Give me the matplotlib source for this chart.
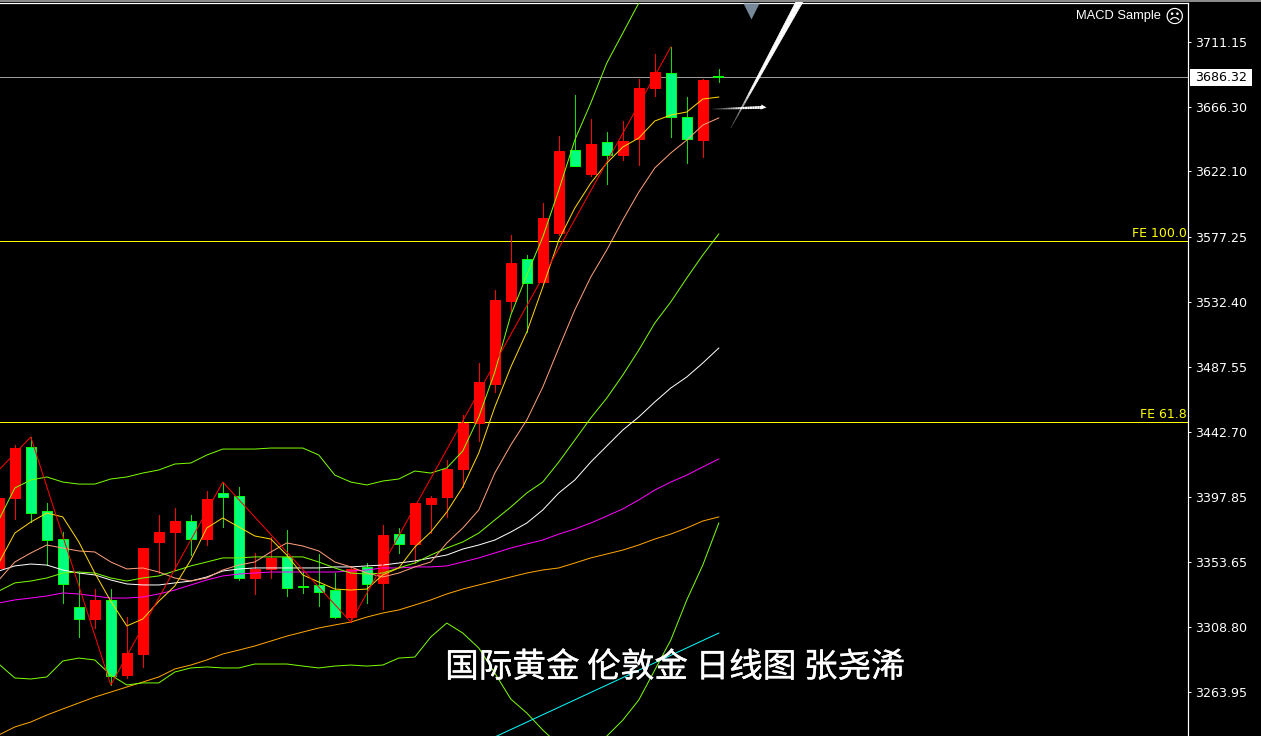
import matplotlib
matplotlib.use("Agg")
import matplotlib.pyplot as plt
import matplotlib.patheffects as pe
from matplotlib.lines import Line2D
from matplotlib.patches import Polygon, Rectangle

# ---------- candles (index = bar number) ----------
opens = [3349.3,3397.4,3432.5,3388.5,3369.2,3322.4,3314.2,3327.3,3275.6,3290.1,3367.1,3374.0,3381.6,3369.2,3400.9,3398.8,
         3342.4,3348.6,3356.8,3336.9,3337.6,3334.1,3315.5,3350.0,3339.0,3372.7,3365.8,3393.3,3398.1,3417.4,3449.0,3475.8,
         3533.0,3561.9,3546.0,3579.8,3636.9,3620.3,3642.4,3633.4,3644.4,3679.5,3689.8,3659.6,3643.7,3687.4]
closes = [3397.4,3431.8,3387.1,3368.5,3338.2,3314.2,3327.3,3275.0,3290.8,3363.0,3374.0,3381.6,3369.2,3396.7,3398.1,3342.4,
          3348.6,3356.2,3335.5,3336.2,3332.8,3315.5,3348.6,3338.2,3372.1,3365.8,3394.0,3397.4,3417.4,3449.0,3477.2,3533.65,
          3559.1,3545.3,3590.1,3636.2,3625.8,3641.0,3633.4,3643.1,3679.5,3690.5,3659.6,3644.4,3685.0,3687.0]
highs = [3402.9,3433.9,3439.4,3394.0,3374.0,3345.8,3334.8,3334.8,3315.5,3363.0,3385.7,3390.5,3385.7,3402.2,3408.4,3405.0,
         3359.6,3370.6,3375.4,3346.5,3358.9,3345.8,3350.6,3352.7,3378.9,3376.8,3394.0,3398.8,3423.5,3454.5,3490.3,3540.5,
         3578.4,3564.6,3600.4,3646.5,3674.7,3658.2,3649.2,3656.8,3685.7,3702.9,3707.7,3673.3,3685.7,3692.5]
lows = [3344.5,3383.0,3380.9,3351.3,3325.2,3301.8,3308.0,3268.8,3273.6,3281.1,3345.8,3347.9,3358.2,3365.1,3377.5,3341.0,
        3331.4,3342.4,3330.0,3332.1,3323.1,3314.8,3312.1,3325.2,3321.1,3359.6,3352.7,3373.3,3384.4,3405.0,3436.6,3470.4,
        3526.1,3511.6,3543.9,3578.4,3625.8,3618.9,3613.5,3630.0,3626.5,3674.0,3645.8,3627.9,3632.1,3683.6]

# ---------- moving averages and bands ----------
ma_yellow = [3352.7,3373.3,3380.9,3387.1,3384.4,3367.2,3345.8,3326.4,3309.4,3314.2,3326.4,3336.9,3354.8,3376.8,3383.7,3377.5,
             3371.3,3369.2,3358.2,3344.5,3339.6,3334.8,3334.1,3334.8,3344.5,3349.3,3363.7,3374.0,3387.8,3405.0,3428.4,3460.0,
             3487.5,3511.6,3542.6,3574.9,3596.9,3614.1,3627.9,3638.9,3645.1,3656.8,3660.9,3663.0,3671.9,3673.3]
ma_salmon = [3341.0,3353.4,3359.6,3365.1,3363.0,3361.0,3360.3,3353.4,3348.6,3349.3,3346.5,3342.4,3340.3,3342.4,3347.9,3351.3,
             3353.4,3360.3,3366.5,3364.4,3361.0,3353.4,3350.0,3345.8,3343.1,3345.8,3350.0,3353.4,3366.5,3376.8,3389.2,3414.6,
             3433.9,3451.1,3473.8,3500.6,3526.8,3549.5,3568.1,3588.7,3607.9,3624.5,3634.8,3643.7,3654.0,3658.9]
ma_white = [3347.2,3350.7,3352.0,3351.3,3347.9,3345.8,3344.5,3341.0,3338.3,3337.6,3337.6,3339.0,3340.3,3343.1,3347.2,3348.6,
            3349.3,3349.3,3349.3,3349.3,3349.3,3350.0,3350.0,3350.7,3351.3,3352.7,3354.1,3356.2,3358.2,3362.3,3365.1,3368.5,
            3374.0,3380.2,3389.2,3400.9,3409.8,3422.2,3433.2,3444.2,3453.2,3463.5,3473.1,3480.7,3490.3,3500.6]
ma_lime = [3333.4,3339.0,3340.3,3342.4,3345.8,3346.5,3345.8,3342.4,3340.3,3342.4,3343.8,3347.2,3350.7,3353.4,3356.2,3356.2,
           3356.9,3356.9,3356.9,3356.9,3353.4,3349.3,3345.8,3345.1,3345.8,3349.3,3352.7,3358.2,3363.0,3367.2,3373.3,3382.3,
           3391.2,3400.9,3408.4,3422.2,3437.3,3452.5,3466.2,3482.0,3499.2,3517.8,3532.3,3548.8,3564.6,3579.1]
ma_magenta = [3325.2,3327.3,3328.6,3330.0,3332.1,3331.4,3330.0,3328.6,3328.6,3329.3,3331.4,3334.1,3337.6,3341.0,3343.8,3345.1,
              3345.8,3346.5,3346.5,3346.5,3346.5,3346.5,3347.2,3347.9,3349.3,3349.3,3350.0,3350.0,3350.7,3353.4,3356.2,3359.6,
              3363.0,3365.8,3368.5,3372.6,3376.1,3380.2,3385.0,3389.9,3396.1,3402.9,3408.4,3413.2,3418.8,3424.3]
ma_orange = [3234.4,3239.9,3243.3,3248.1,3252.3,3256.4,3260.5,3263.9,3267.4,3270.8,3274.3,3279.8,3282.5,3286.0,3290.1,3292.8,
             3295.6,3299.0,3302.4,3305.2,3308.0,3310.1,3312.1,3315.5,3318.3,3320.4,3323.8,3327.3,3331.4,3334.8,3337.6,3340.3,
             3343.1,3345.8,3347.9,3349.3,3352.7,3356.2,3358.9,3361.6,3365.1,3369.2,3372.6,3376.8,3381.6,3384.4]
band_upper = [3382.3,3404.3,3409.8,3411.9,3408.4,3407.0,3407.0,3410.5,3411.9,3414.6,3416.7,3420.8,3421.5,3427.0,3431.1,3431.1,
              3431.1,3431.8,3431.8,3431.8,3427.0,3413.2,3408.4,3406.4,3409.1,3410.5,3416.0,3414.6,3418.1,3429.8,3453.2,3484.1,
              3523.3,3550.8,3577.0,3609.3,3643.7,3669.2,3696.7,3717.3,3738.0,3760.7]
band_lower = [3283.2,3273.6,3272.9,3274.3,3285.3,3287.3,3286.0,3275.6,3268.8,3270.2,3270.2,3277.7,3280.5,3281.2,3280.5,3280.5,
              3283.2,3283.2,3283.2,3281.8,3280.5,3281.8,3282.5,3281.8,3282.5,3287.3,3288.0,3301.8,3311.4,3304.5,3294.2,3277.0,
              3259.1,3249.5,3237.8,3227.5,3220.6,3224.0,3233.6,3244.6,3258.5,3279.1,3299.7,3327.3,3351.3,3380.2]

# ---------- zigzag, trendline, levels ----------
zigzag_bars = [0, 2, 7, 14, 22, 42]
zigzag_prices = [3416.7, 3439.4, 3268.8, 3408.4, 3312.1, 3707.7]
trend_bars = [31, 45]
trend_prices = [3233.0, 3304.5]
level_fe100 = 3574.2
level_fe618 = 3449.9
level_bid = 3687.0
bid_label = "3686.32"
tick_values = [3711.15, 3666.30, 3622.10, 3577.25, 3532.40, 3487.55, 3442.70, 3397.85, 3353.65, 3308.80, 3263.95]
tick_labels = ["3711.15", "3666.30", "3622.10", "3577.25", "3532.40", "3487.55", "3442.70", "3397.85", "3353.65", "3308.80", "3263.95"]
title_text = "国际黄金 伦敦金 日线图 张尧浠"

# ---------- layout ----------
W, H = 1261, 736
BAR_PX = 16.0
PLOT_RIGHT, PLOT_TOP = 1188, 3
PX = 0.72   # one pixel in points at dpi 100
THIN = 0.72 # diagonal indicator lines
UI = "DejaVu Sans"

def px(x, y):
    return x / W, 1 - y / H

fig = plt.figure(figsize=(W / 100, H / 100), dpi=100, facecolor="black")
ax = fig.add_axes([0, 0, PLOT_RIGHT / W, (H - PLOT_TOP) / H], facecolor="black")
ax.set_xlim(1.2 / BAR_PX, (PLOT_RIGHT + 1.2) / BAR_PX)
ax.set_ylim(3233.68, 3737.99)

for s in ("left", "bottom"):
    ax.spines[s].set_visible(False)
for s in ("top", "right"):
    ax.spines[s].set_color("white")
    ax.spines[s].set_linewidth(PX * 1.2)
ax.set_xticks([])
ax.set_yticks(tick_values)
ax.set_yticklabels(tick_labels, family=UI, fontsize=9.05, color="white")
ax.tick_params(axis="y", left=False, labelleft=False, right=True, labelright=True,
               color="white", length=2.4, width=PX, pad=2.6)

# horizontal levels (behind the candles)
ax.axhline(level_bid, color="#9b9b9b", lw=PX, zorder=1)
ax.axhline(level_fe100, color="#FFFF00", lw=PX, zorder=1)
ax.axhline(level_fe618, color="#FFFF00", lw=PX, zorder=1)

# candles
bars = list(range(len(opens)))
up = [c >= o for o, c in zip(opens, closes)]
UP_C, DN_FACE, DN_EDGE, DN_WICK = "#FF0000", "#00FF7F", "#00FF00", "#10DC10"
ax.vlines(bars, lows, highs, colors=[UP_C if u else DN_WICK for u in up], lw=PX, zorder=2, antialiased=False)
for b, o, c, u in zip(bars, opens, closes, up):
    lo, hi = min(o, c), max(o, c)
    if b == bars[-1]:
        ax.hlines((o + c) / 2, b - 5.5 / BAR_PX, b + 5.5 / BAR_PX, color=DN_EDGE, lw=PX * 2, zorder=2.1, antialiased=False)
        continue
    ax.bar(b, hi - lo, bottom=lo, width=10 / BAR_PX, color=UP_C if u else DN_FACE,
           edgecolor=UP_C if u else DN_EDGE, linewidth=PX, zorder=2.1)

# indicator lines
for series, col in [(ma_orange, "#FFA500"), (ma_magenta, "#FF00FF"), (ma_white, "#FFFFFF"), (ma_lime, "#7CFC00"),
                    (ma_salmon, "#FFA07A"), (ma_yellow, "#FFD700"), (band_upper, "#7CFC00"), (band_lower, "#7CFC00")]:
    ax.plot(range(len(series)), series, color=col, lw=THIN, zorder=3, solid_joinstyle="miter")
ax.plot(zigzag_bars, zigzag_prices, color="#FF0000", lw=THIN, zorder=3.1)
ax.plot(trend_bars, trend_prices, color="#00FFFF", lw=THIN, zorder=3)

# level captions
for lab, lv in (("FE 100.0", level_fe100), ("FE 61.8", level_fe618)):
    ax.annotate(lab, xy=(1.0, lv), xycoords=("axes fraction", "data"), xytext=(-1, 0.6), textcoords="offset points",
                color="#FFFF00", family=UI, fontsize=9.0, ha="right", va="bottom", zorder=5)

# last-price tag
fig.add_artist(Rectangle(px(1190, 86), 62 / W, 17 / H, transform=fig.transFigure, facecolor="white", edgecolor="none"))
fig.text(*px(1195, 77.5), bid_label, color="black", family=UI, fontsize=9.05, ha="left", va="center")

# top chrome
fig.add_artist(Line2D([0, 1], [1 - 1 / H, 1 - 1 / H], color="#8a8a8a", lw=PX * 2, transform=fig.transFigure))
fig.text(*px(1076, 16.5), "MACD Sample", color="white", family="Liberation Sans", fontsize=9.3, ha="left", va="center")
fig.text(*px(1174.5, 17), "\u2639", color="white", family=UI, fontsize=13.5, ha="center", va="center")

# arrows / EA objects, in bar / price units
ax.plot([47.0], [3732.5], marker="v", ms=11.5, mfc="#778899", mec="none", zorder=4, clip_on=False)
N = 30
sx0, sy0, sx1, sy1, half = 45.75, 3652.0, 50.1, 3740.05, 0.23
for k in range(N):
    a, b_ = k / N, (k + 1) / N
    g = min(1.0, 0.2 + 2.8 * a)
    ax.add_patch(Polygon([(sx0 + (sx1 - sx0) * a - half * a, sy0 + (sy1 - sy0) * a),
                          (sx0 + (sx1 - sx0) * b_ - half * b_, sy0 + (sy1 - sy0) * b_),
                          (sx0 + (sx1 - sx0) * b_ + half * b_, sy0 + (sy1 - sy0) * b_),
                          (sx0 + (sx1 - sx0) * a + half * a, sy0 + (sy1 - sy0) * a)],
                         closed=True, facecolor=(g, g, g), edgecolor=(g, g, g), linewidth=0.4,
                         zorder=4, clip_on=False, snap=False))
ax_tail, ay_tail, ax_head, ay_head = 44.6, 3665.0, 47.75, 3666.2
for k in range(N):
    a, b_ = k / N, (k + 1) / N
    g = min(1.0, 0.15 + 1.5 * a)
    ax.plot([ax_tail + (ax_head - ax_tail) * a, ax_tail + (ax_head - ax_tail) * b_],
            [ay_tail + (ay_head - ay_tail) * a, ay_tail + (ay_head - ay_tail) * b_],
            color=(g, g, g), lw=0.7 + 1.5 * a, zorder=4, solid_capstyle="butt")
ax.plot([ax_head], [ay_head], marker=">", ms=3.6, mfc="white", mec="none", zorder=4)

# caption
fig.text(*px(675, 667.5), title_text, color="white", family=["Noto Sans CJK SC", "DejaVu Sans"],
         fontsize=24.2, ha="center", va="center", zorder=10,
         path_effects=[pe.withStroke(linewidth=0.25, foreground="white")])

fig.savefig("out.png", dpi=100, facecolor="black")
